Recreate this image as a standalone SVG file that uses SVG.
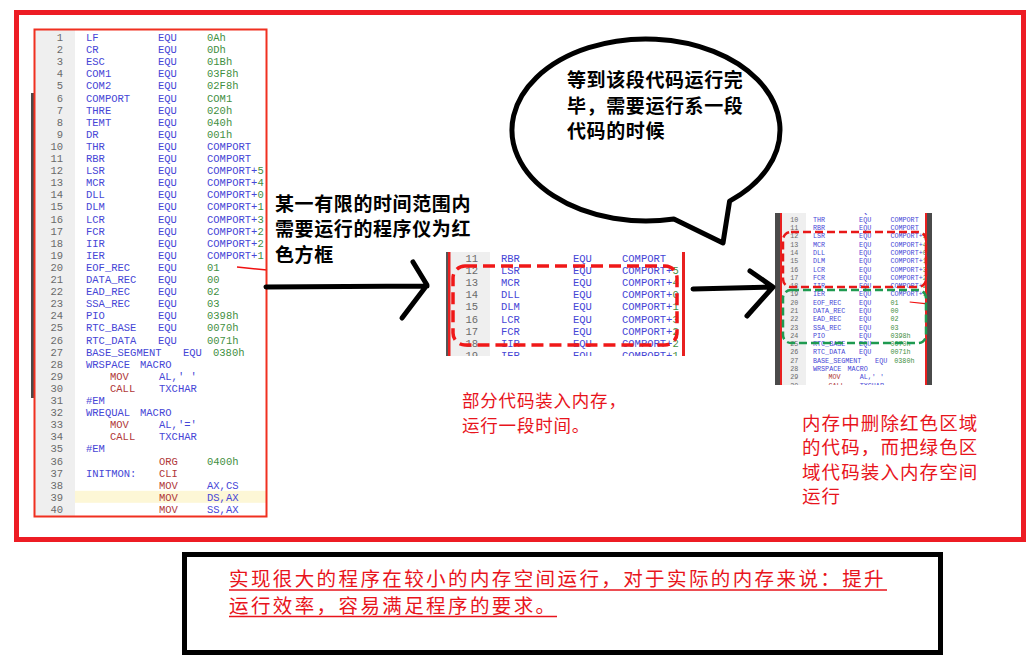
<svg xmlns="http://www.w3.org/2000/svg" xmlns:xlink="http://www.w3.org/1999/xlink" width="1032" height="664" viewBox="0 0 1032 664">
<style>
.mono{font-family:"Liberation Mono","DejaVu Sans Mono",monospace;font-size:10.5px}
.ln{fill:#6a6a6a}
.b{fill:#4646d6}
.g{fill:#3f8f3f}
.r{fill:#b03838}
.cjk{font-family:"Noto Sans CJK SC","Noto Sans",sans-serif}
.blk{fill:#000;font-size:19px;font-weight:bold;letter-spacing:0.6px}
.red{fill:#e8141c}
.arrow{fill:none;stroke:#000;stroke-width:5;stroke-linecap:round;stroke-linejoin:round}
</style>
<defs>
<clipPath id="clipMid"><rect x="450" y="252" width="232" height="104"/></clipPath>
<clipPath id="clipRight"><rect x="782" y="213" width="143" height="172"/></clipPath>
</defs>
<rect width="1032" height="664" fill="#fff"/>
<rect id="outer-frame" x="16.5" y="12.5" width="1007" height="527" fill="none" stroke="#ed1c24" stroke-width="5"/>

<g id="left-code">
<rect x="31" y="93" width="4" height="305" fill="#4a4a4a"/>
<g id="code">
<rect x="35" y="29" width="232" height="488" fill="#fff"/>
<rect x="35" y="29" width="40" height="488" fill="#efefef"/>
<rect x="75" y="490.8" width="192" height="12" fill="#fdf7d6"/>
<g class="mono ln" text-anchor="end">
<text x="63" y="41">1</text><text x="63" y="53.1">2</text><text x="63" y="65.2">3</text><text x="63" y="77.3">4</text><text x="63" y="89.4">5</text>
<text x="63" y="101.5">6</text><text x="63" y="113.6">7</text><text x="63" y="125.7">8</text><text x="63" y="137.8">9</text><text x="63" y="149.9">10</text>
<text x="63" y="162">11</text><text x="63" y="174.1">12</text><text x="63" y="186.2">13</text><text x="63" y="198.3">14</text><text x="63" y="210.4">15</text>
<text x="63" y="222.5">16</text><text x="63" y="234.6">17</text><text x="63" y="246.7">18</text><text x="63" y="258.8">19</text><text x="63" y="270.9">20</text>
<text x="63" y="283">21</text><text x="63" y="295.1">22</text><text x="63" y="307.2">23</text><text x="63" y="319.3">24</text><text x="63" y="331.4">25</text>
<text x="63" y="343.5">26</text><text x="63" y="355.6">27</text><text x="63" y="367.7">28</text><text x="63" y="379.8">29</text><text x="63" y="391.9">30</text>
<text x="63" y="404">31</text><text x="63" y="416.1">32</text><text x="63" y="428.2">33</text><text x="63" y="440.3">34</text><text x="63" y="452.4">35</text>
<text x="63" y="464.5">36</text><text x="63" y="476.6">37</text><text x="63" y="488.7">38</text><text x="63" y="500.8">39</text><text x="63" y="512.9">40</text>
</g>
<g class="mono">
<text y="41"><tspan x="86" class="b">LF</tspan><tspan x="158" class="b">EQU</tspan><tspan x="207" class="g">0Ah</tspan></text>
<text y="53.1"><tspan x="86" class="b">CR</tspan><tspan x="158" class="b">EQU</tspan><tspan x="207" class="g">0Dh</tspan></text>
<text y="65.2"><tspan x="86" class="b">ESC</tspan><tspan x="158" class="b">EQU</tspan><tspan x="207" class="g">01Bh</tspan></text>
<text y="77.3"><tspan x="86" class="b">COM1</tspan><tspan x="158" class="b">EQU</tspan><tspan x="207" class="g">03F8h</tspan></text>
<text y="89.4"><tspan x="86" class="b">COM2</tspan><tspan x="158" class="b">EQU</tspan><tspan x="207" class="g">02F8h</tspan></text>
<text y="101.5"><tspan x="86" class="b">COMPORT</tspan><tspan x="158" class="b">EQU</tspan><tspan x="207" class="g">COM1</tspan></text>
<text y="113.6"><tspan x="86" class="b">THRE</tspan><tspan x="158" class="b">EQU</tspan><tspan x="207" class="g">020h</tspan></text>
<text y="125.7"><tspan x="86" class="b">TEMT</tspan><tspan x="158" class="b">EQU</tspan><tspan x="207" class="g">040h</tspan></text>
<text y="137.8"><tspan x="86" class="b">DR</tspan><tspan x="158" class="b">EQU</tspan><tspan x="207" class="g">001h</tspan></text>
<text y="149.9"><tspan x="86" class="b">THR</tspan><tspan x="158" class="b">EQU</tspan><tspan x="207" class="b">COMPORT</tspan></text>
<text y="162"><tspan x="86" class="b">RBR</tspan><tspan x="158" class="b">EQU</tspan><tspan x="207" class="b">COMPORT</tspan></text>
<text y="174.1"><tspan x="86" class="b">LSR</tspan><tspan x="158" class="b">EQU</tspan><tspan x="207" class="b">COMPORT+</tspan><tspan class="g">5</tspan></text>
<text y="186.2"><tspan x="86" class="b">MCR</tspan><tspan x="158" class="b">EQU</tspan><tspan x="207" class="b">COMPORT+</tspan><tspan class="g">4</tspan></text>
<text y="198.3"><tspan x="86" class="b">DLL</tspan><tspan x="158" class="b">EQU</tspan><tspan x="207" class="b">COMPORT+</tspan><tspan class="g">0</tspan></text>
<text y="210.4"><tspan x="86" class="b">DLM</tspan><tspan x="158" class="b">EQU</tspan><tspan x="207" class="b">COMPORT+</tspan><tspan class="g">1</tspan></text>
<text y="222.5"><tspan x="86" class="b">LCR</tspan><tspan x="158" class="b">EQU</tspan><tspan x="207" class="b">COMPORT+</tspan><tspan class="g">3</tspan></text>
<text y="234.6"><tspan x="86" class="b">FCR</tspan><tspan x="158" class="b">EQU</tspan><tspan x="207" class="b">COMPORT+</tspan><tspan class="g">2</tspan></text>
<text y="246.7"><tspan x="86" class="b">IIR</tspan><tspan x="158" class="b">EQU</tspan><tspan x="207" class="b">COMPORT+</tspan><tspan class="g">2</tspan></text>
<text y="258.8"><tspan x="86" class="b">IER</tspan><tspan x="158" class="b">EQU</tspan><tspan x="207" class="b">COMPORT+</tspan><tspan class="g">1</tspan></text>
<text y="270.9"><tspan x="86" class="b">EOF_REC</tspan><tspan x="158" class="b">EQU</tspan><tspan x="207" class="g">01</tspan></text>
<text y="283"><tspan x="86" class="b">DATA_REC</tspan><tspan x="158" class="b">EQU</tspan><tspan x="207" class="g">00</tspan></text>
<text y="295.1"><tspan x="86" class="b">EAD_REC</tspan><tspan x="158" class="b">EQU</tspan><tspan x="207" class="g">02</tspan></text>
<text y="307.2"><tspan x="86" class="b">SSA_REC</tspan><tspan x="158" class="b">EQU</tspan><tspan x="207" class="g">03</tspan></text>
<text y="319.3"><tspan x="86" class="b">PIO</tspan><tspan x="158" class="b">EQU</tspan><tspan x="207" class="g">0398h</tspan></text>
<text y="331.4"><tspan x="86" class="b">RTC_BASE</tspan><tspan x="158" class="b">EQU</tspan><tspan x="207" class="g">0070h</tspan></text>
<text y="343.5"><tspan x="86" class="b">RTC_DATA</tspan><tspan x="158" class="b">EQU</tspan><tspan x="207" class="g">0071h</tspan></text>
<text y="355.6"><tspan x="86" class="b">BASE_SEGMENT</tspan><tspan x="183" class="b">EQU</tspan><tspan x="213" class="g">0380h</tspan></text>
<text y="367.7"><tspan x="86" class="b">WRSPACE</tspan><tspan x="140" class="b">MACRO</tspan></text>
<text y="379.8"><tspan x="110" class="r">MOV</tspan><tspan x="159" class="b">AL,' '</tspan></text>
<text y="391.9"><tspan x="110" class="r">CALL</tspan><tspan x="159" class="b">TXCHAR</tspan></text>
<text y="404"><tspan x="86" class="b">#EM</tspan></text>
<text y="416.1"><tspan x="86" class="b">WREQUAL</tspan><tspan x="140" class="b">MACRO</tspan></text>
<text y="428.2"><tspan x="110" class="r">MOV</tspan><tspan x="159" class="b">AL,'='</tspan></text>
<text y="440.3"><tspan x="110" class="r">CALL</tspan><tspan x="159" class="b">TXCHAR</tspan></text>
<text y="452.4"><tspan x="86" class="b">#EM</tspan></text>
<text y="464.5"><tspan x="159" class="r">ORG</tspan><tspan x="207" class="g">0400h</tspan></text>
<text y="476.6"><tspan x="86" class="b">INITMON:</tspan><tspan x="159" class="r">CLI</tspan></text>
<text y="488.7"><tspan x="159" class="r">MOV</tspan><tspan x="207" class="b">AX,CS</tspan></text>
<text y="500.8"><tspan x="159" class="r">MOV</tspan><tspan x="207" class="b">DS,AX</tspan></text>
<text y="512.9"><tspan x="159" class="r">MOV</tspan><tspan x="207" class="b">SS,AX</tspan></text>
</g>
<path d="M237 267 L267 270" stroke="#f01010" stroke-width="1.5" fill="none"/>
</g>
<rect x="34.5" y="29.5" width="232" height="487" fill="none" stroke="#f03020" stroke-width="2"/>
</g>

<g id="mid-snippet">
<g clip-path="url(#clipMid)"><use xlink:href="#code" href="#code" transform="translate(415,100)"/></g>
<rect x="446" y="252" width="2" height="104" fill="#555"/>
<rect x="448" y="252" width="2.5" height="104" fill="#e82020"/>
<rect x="682" y="252" width="3" height="104" fill="#e82020"/>
<rect x="453" y="266" width="224" height="79" rx="12" fill="none" stroke="#f01818" stroke-width="3.5" stroke-dasharray="12 6"/>
</g>

<g id="right-snippet">
<g clip-path="url(#clipRight)"><use xlink:href="#code" href="#code" transform="translate(758,119.1) scale(0.64,0.685)"/></g>
<rect x="775" y="213" width="5" height="172" fill="#4a4a4a"/>
<rect x="780" y="213" width="2" height="172" fill="#e82020"/>
<rect x="925" y="213" width="2" height="172" fill="#e82020"/>
<rect x="927" y="213" width="5" height="172" fill="#4a4a4a"/>
<rect x="783" y="232" width="143" height="55" rx="8" fill="none" stroke="#e81818" stroke-width="2.5" stroke-dasharray="8 4"/>
<rect x="783" y="290" width="143" height="53" rx="8" fill="none" stroke="#1e9a50" stroke-width="2.5" stroke-dasharray="8 4"/>
</g>

<g id="bubble">
<path d="M729.6 201.1 A134 91 0 1 0 673.9 219 L723 243 Z" fill="#fff" stroke="#000" stroke-width="5" stroke-linejoin="round"/>
<text class="cjk blk"><tspan x="567" y="87">等到该段代码运行完</tspan><tspan x="567" y="113">毕，需要运行系一段</tspan><tspan x="567" y="138">代码的时候</tspan></text>
</g>

<g id="label-left">
<text class="cjk blk"><tspan x="275" y="211">某一有限的时间范围内</tspan><tspan x="275" y="236">需要运行的程序仪为红</tspan><tspan x="275" y="262">色方框</tspan></text>
</g>

<g id="label-mid">
<text class="cjk red" font-size="17.5" letter-spacing="0.8"><tspan x="462" y="407">部分代码装入内存，</tspan><tspan x="462" y="432">运行一段时间。</tspan></text>
</g>

<g id="label-right">
<text class="cjk red" font-size="18.5" letter-spacing="1.1"><tspan x="802" y="430">内存中删除红色区域</tspan><tspan x="802" y="454">的代码，而把绿色区</tspan><tspan x="802" y="479">域代码装入内存空间</tspan><tspan x="802" y="503">运行</tspan></text>
</g>

<g id="summary-box">
<rect x="184.5" y="554.5" width="756" height="98" fill="none" stroke="#000" stroke-width="5"/>
<text class="cjk red" font-size="19.5" letter-spacing="2.4"><tspan x="229" y="585.5">实现很大的程序在较小的内存空间运行，对于实际的内存来说：提升</tspan><tspan x="229" y="612.5">运行效率，容易满足程序的要求。</tspan></text>
<path d="M229 590 H887 M229 616.5 H557" stroke="#e8141c" stroke-width="1.5" fill="none"/>
</g>

<g id="connectors">
<path class="arrow" d="M266 287 L427 286 M413 262 L427 285 L402 318"/>
<path class="arrow" d="M693 289 L772 287 M750 271 L773 287 L747 316"/>
</g>
</svg>
